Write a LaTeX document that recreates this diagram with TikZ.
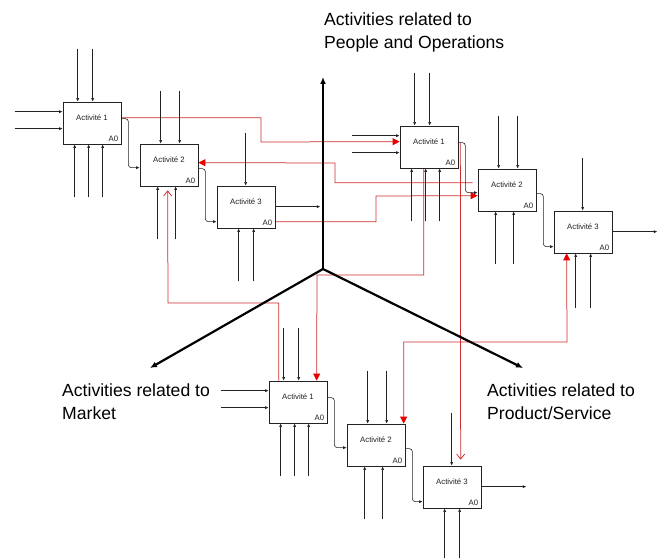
\documentclass[tikz,border=0pt]{standalone}
\usepackage{fontspec}
\setmainfont{Liberation Sans}
\usetikzlibrary{arrows.meta,calc}
\definecolor{rl}{RGB}{205,45,45}
\definecolor{ra}{RGB}{230,0,0}
\definecolor{ln}{RGB}{35,35,35}
\pgfdeclarelayer{redl}
\pgfdeclarelayer{axl}
\pgfsetlayers{redl,axl,main}
\tikzset{
  box/.style={draw=ln, line width=0.7pt, fill=white, minimum width=58pt, minimum height=42pt, inner sep=0pt},
  act/.style={font=\fontsize{7.8}{9}\selectfont, text=ln},
  flow/.style={draw=ln, line width=0.6pt, -{Latex[length=3.5pt,width=3pt]}},
  rflow/.style={draw=rl, line width=0.75pt},
  rfill/.style={rflow, -{Triangle[length=7pt,width=7pt,color=ra]}},
  rboth/.style={rflow, {Triangle[length=7pt,width=7pt,color=ra]}-{Triangle[length=7pt,width=7pt,color=ra]}},
  ropen/.style={rflow, -{Straight Barb[length=5pt,width=8pt]}},
  axis/.style={line width=2.2pt, line cap=round, -{Latex[length=7pt,width=6pt]}},
  big/.style={font=\fontsize{17.6}{22.5}\selectfont, align=left, inner sep=0pt, anchor=north west}
}
\newcommand\actbox[3]{\node[box,
  label={[act,anchor=center,yshift=-16pt]north:Activité #3},
  label={[act,anchor=south east,inner sep=0pt,xshift=-3pt,yshift=3pt]south east:A0}] (#1) at (#2) {};}
% inputs for first box of a group
\newcommand\inpfirst[1]{%
  \foreach \d in {15,30}{\path ($(#1.north west)+(\d,-53)$) coordinate (#1-t\d); \draw[flow] (#1-t\d) -- (#1-t\d |- #1.north);}
  \foreach \d in {10,27}{\path ($(#1.north west)+(-48,\d)$) coordinate (#1-l\d); \draw[flow] (#1-l\d) -- (#1-l\d -| #1.west);}
  \foreach \d in {12,26,40}{\path ($(#1.south west)+(\d,53)$) coordinate (#1-b\d); \draw[flow] (#1-b\d) -- (#1-b\d |- #1.south);}}
\newcommand\inpsecond[1]{%
  \foreach \d in {21,40}{\path ($(#1.north west)+(\d,-53)$) coordinate (#1-t\d); \draw[flow] (#1-t\d) -- (#1-t\d |- #1.north);}
  \foreach \d in {18,36}{\path ($(#1.south west)+(\d,53)$) coordinate (#1-b\d); \draw[flow] (#1-b\d) -- (#1-b\d |- #1.south);}}
\newcommand\inpthird[2]{%
  \path ($(#1.north west)+(29,-53)$) coordinate (#1-t); \draw[flow] (#1-t) -- (#1-t |- #1.north);
  \foreach \d in {22,37}{\path ($(#1.south west)+(\d,#2)$) coordinate (#1-b\d); \draw[flow] (#1-b\d) -- (#1-b\d |- #1.south);}
  \path ($(#1.north east)+(45,21)$) coordinate (#1-o); \draw[flow] (#1-o -| #1.east) -- (#1-o);}
\newcommand\linkboxes[3]{%
  \draw[flow, rounded corners=3pt] ($(#1.north east)+(0,17)$) -- ++(7,0) |- ($(#2.north west)+(0,24)$);
  \draw[flow, rounded corners=3pt] ($(#2.north east)+(0,25)$) -- ++(7,0) |- ($(#3.north west)+(0,36)$);}
\begin{document}
\begin{tikzpicture}[x=1pt,y=-1pt]
\useasboundingbox (0,0) rectangle (662,559);
% boxes
\actbox{A1}{92,123}{1}
\actbox{A2}{169,165}{2}
\actbox{A3}{246,207}{3}
\actbox{B1}{429,147}{1}
\actbox{B2}{507,190}{2}
\actbox{B3}{583,232}{3}
\actbox{C1}{298,402}{1}
\actbox{C2}{376,445}{2}
\actbox{C3}{452,487}{3}
% red links (bottom layer)
\begin{pgfonlayer}{redl}
\draw[rfill] ($(A1.north east)+(0,16)$) -| (261,142) -- ($(B1.north west)+(0,16)$);
\draw[rfill] ($(B2.north west)+(-5,14)$) -| (335,163) -- ($(A2.north east)+(0,19)$);
\draw[rfill] ($(A3.north east)+(0,36)$) -| (376,196) -- ($(B2.north west)+(0,27)$);
\draw[rfill] ($(B1.south west)+(24,0)$) |- (317,275) -- ($(C1.north west)+(48,0)$);
\draw[ropen] ($(C1.north west)+(10,0)$) |- (168,303) -- ($(A2.south west)+(28,4)$);
\draw[rboth] ($(C2.north west)+(57,0)$) |- (567,342) -- ($(B3.south west)+(13,0)$);
\draw[ropen] ($(B1.north east)+(2,17)$) -- ($(C3.north west)+(38,-6)$);
\end{pgfonlayer}
% axes
\begin{pgfonlayer}{axl}
\coordinate (O) at (323,269);
\coordinate (Ytop) at (323,77);
\coordinate (Lft) at (150,368);
\coordinate (Rgt) at (523,368);
\draw[axis] (O) -- (Ytop);
\draw[axis] (O) -- (Lft);
\draw[axis] (O) -- (Rgt);
\end{pgfonlayer}
% black flows
\inpfirst{A1}\inpsecond{A2}\inpthird{A3}{53}
\inpfirst{B1}\inpsecond{B2}\inpthird{B3}{55}
\inpfirst{C1}\inpsecond{C2}\inpthird{C3}{50}
\linkboxes{A1}{A2}{A3}
\linkboxes{B1}{B2}{B3}
\linkboxes{C1}{C2}{C3}
% labels
\node[big] (Lp) at (324,13) {Activities related to\\People and Operations};
\node[big] (Lm) at (62,384) {Activities related to\\Market};
\node[big] (Ls) at (487,384) {Activities related to\\Product/Service};
\end{tikzpicture}
\end{document}
